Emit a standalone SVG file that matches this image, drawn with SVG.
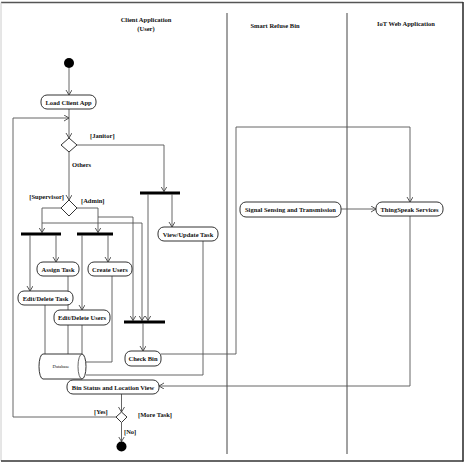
<svg xmlns="http://www.w3.org/2000/svg" width="465" height="464" viewBox="0 0 465 464">
<style>
text{font-family:"Liberation Serif","Times New Roman",serif;font-weight:bold;font-size:6.5px;fill:#111}
.lbl{text-anchor:middle}
.box{fill:#fff;stroke:#333;stroke-width:1}
.bar{fill:#000}
.c{fill:none;stroke:#555;stroke-width:0.9}
.lane{stroke:#444;stroke-width:1}
</style>
<defs>
<marker id="a" markerUnits="userSpaceOnUse" markerWidth="7" markerHeight="7" refX="5" refY="3" orient="auto">
<path d="M0,0 L5,3 L0,6" fill="none" stroke="#444" stroke-width="0.9"/>
</marker>
</defs>
<rect width="465" height="464" fill="#fff"/>
<g id="frame">
<line x1="1" y1="2.5" x2="463" y2="2.5" stroke="#555" stroke-width="1.5"/>
<line x1="1" y1="2.5" x2="1" y2="461" stroke="#ccc" stroke-width="1"/>
<line x1="463" y1="2" x2="463" y2="461.5" stroke="#333" stroke-width="1.6"/>
<line x1="1" y1="461" x2="463.5" y2="461" stroke="#333" stroke-width="1.6"/>
<line class="lane" x1="227" y1="13" x2="227" y2="454"/>
<line class="lane" x1="347" y1="13" x2="347" y2="454"/>
<text class="lbl" x="146" y="22">Client Application</text>
<text class="lbl" x="146" y="31">(User)</text>
<text class="lbl" x="275" y="28">Smart Refuse Bin</text>
<text class="lbl" x="406" y="26">IoT Web Application</text>
</g>
<g id="connectors">
<path class="c" d="M69,68 V95" marker-end="url(#a)"/>
<path class="c" d="M69,109 V138" marker-end="url(#a)"/>
<path class="c" d="M116,417 H13 V118 H69" marker-end="url(#a)"/>
<path class="c" d="M77,145 H164 V191.5" marker-end="url(#a)"/>
<path class="c" d="M69,152 V200" marker-end="url(#a)"/>
<path class="c" d="M61,208 H42 V232.5" marker-end="url(#a)"/>
<path class="c" d="M77,208 H98 V232.5" marker-end="url(#a)"/>
<path class="c" d="M98,217 H133 V320.5" marker-end="url(#a)"/>
<path class="c" d="M42,223 H142 V320.5" marker-end="url(#a)"/>
<path class="c" d="M148,194.5 V320.5" marker-end="url(#a)"/>
<path class="c" d="M172,194.5 V227" marker-end="url(#a)"/>
<path class="c" d="M30,235.5 V291" marker-end="url(#a)"/>
<path class="c" d="M56,235.5 V262" marker-end="url(#a)"/>
<path class="c" d="M82,235.5 V310" marker-end="url(#a)"/>
<path class="c" d="M108,235.5 V262" marker-end="url(#a)"/>
<path class="c" d="M68,276 V354"/>
<path class="c" d="M45,305 V354"/>
<path class="c" d="M82,325 V356"/>
<path class="c" d="M112,276 V362 H86"/>
<path class="c" d="M203,241 V375 H86"/>
<path class="c" d="M143,323.5 V351" marker-end="url(#a)"/>
<path class="c" d="M161,354 H236 V127 H410 V202" marker-end="url(#a)"/>
<path class="c" d="M341,209 H376" marker-end="url(#a)"/>
<path class="c" d="M410,216 V386 H159" marker-end="url(#a)"/>
<path class="c" d="M121.5,394 V412" marker-end="url(#a)"/>
<path class="c" d="M121.5,422.5 V441.5" marker-end="url(#a)"/>
<text x="90" y="138">[Janitor]</text>
<text x="72" y="167">Others</text>
<text x="64" y="199" text-anchor="end">[Supervisor]</text>
<text x="81" y="203">[Admin]</text>
<text x="94" y="414">[Yes]</text>
<text x="138" y="417">[More Task]</text>
<text x="124" y="434">[No]</text>
</g>
<g id="start"><circle cx="69" cy="63" r="5" fill="#000"/></g>
<g id="load"><rect class="box" x="41" y="95" width="55" height="14" rx="6"/><text class="lbl" x="68.5" y="104.5">Load Client App</text></g>
<g id="decision1"><polygon class="box" points="69,138 77,145 69,152 61,145"/></g>
<g id="decision2"><polygon class="box" points="69,200 77,208 69,216 61,208"/></g>
<g id="fork1"><rect class="bar" x="21" y="232.5" width="40" height="3"/></g>
<g id="fork2"><rect class="bar" x="77" y="232.5" width="36" height="3"/></g>
<g id="fork3"><rect class="bar" x="140" y="191.5" width="40" height="3"/></g>
<g id="join"><rect class="bar" x="124" y="320.5" width="41" height="3"/></g>
<g id="assign"><rect class="box" x="37" y="262" width="42" height="14" rx="6"/><text class="lbl" x="58" y="271.5">Assign Task</text></g>
<g id="create"><rect class="box" x="88" y="262" width="44" height="14" rx="6"/><text class="lbl" x="110" y="271.5">Create Users</text></g>
<g id="editTask"><rect class="box" x="18" y="291" width="55" height="14" rx="6"/><text class="lbl" x="45.5" y="300.5">Edit/Delete Task</text></g>
<g id="editUsers"><rect class="box" x="54" y="310" width="56" height="15" rx="6"/><text class="lbl" x="82" y="320">Edit/Delete Users</text></g>
<g id="view"><rect class="box" x="158" y="227" width="60" height="14" rx="6"/><text class="lbl" x="188" y="236.5">View/Update Task</text></g>
<g id="checkBin"><rect class="box" x="125" y="351" width="36" height="15" rx="6"/><text class="lbl" x="143" y="361">Check Bin</text></g>
<g id="database">
<path class="box" d="M43,354 H82 A4,12.5 0 0 1 82,379 H43 A4,12.5 0 0 1 43,354 Z"/>
<path class="c" d="M82,354 A4,12.5 0 0 0 82,379" stroke="#333"/>
<text class="lbl" x="61" y="368" style="font-weight:normal;font-size:4.6px">Database</text>
</g>
<g id="binStatus"><rect class="box" x="67" y="380" width="92" height="14" rx="6"/><text class="lbl" x="113" y="389.5">Bin Status and Location View</text></g>
<g id="signal"><rect class="box" x="240" y="202" width="101" height="15" rx="6"/><text class="lbl" x="290.5" y="212">Signal Sensing and Transmission</text></g>
<g id="thingspeak"><rect class="box" x="376" y="202" width="67" height="14" rx="6"/><text class="lbl" x="409.5" y="211.5">ThingSpeak Services</text></g>
<g id="decision3"><polygon class="box" points="121.5,412 127,417 121.5,422.5 116,417"/></g>
<g id="end"><circle cx="121.5" cy="446.5" r="5" fill="#000"/></g>
</svg>
